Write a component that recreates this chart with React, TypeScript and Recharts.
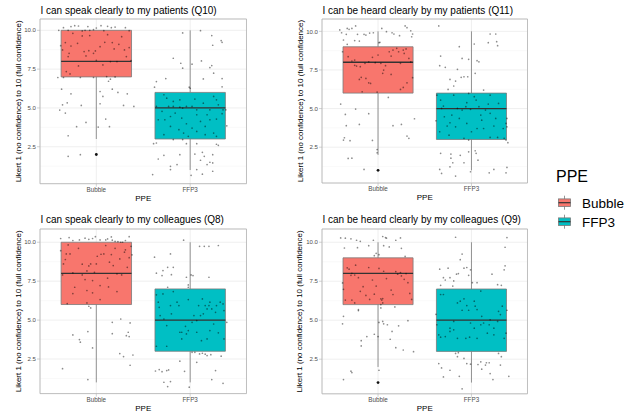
import React from "react";
import {
  ScatterChart,
  Scatter,
  XAxis,
  YAxis,
  CartesianGrid,
  ReferenceArea,
  ReferenceLine,
} from "recharts";

// ---------- data ----------
const categories = ["Bubble", "FFP3"];
const seriesColors = ["#F8766D", "#00BFC4"];
const yTicks = [2.5, 5, 7.5, 10];
const yMinorTicks = [1.25, 3.75, 6.25, 8.75];
const yAxisTitle = "Likert 1 (no confidence) to 10 (full confidence)";
const xAxisTitle = "PPE";
const legendTitle = "PPE";

const panelTitles = [
  "I can speak clearly to my patients (Q10)",
  "I can be heard clearly by my patients (Q11)",
  "I can speak clearly to my colleagues (Q8)",
  "I can be heard clearly by my colleagues (Q9)",
];

// box stats per category: [lower whisker, Q1, median, Q3, upper whisker]
const q10Boxes = [[3, 7, 8, 10, 10], [1, 3, 5, 6, 10]];
const q11Boxes = [[2, 6, 8, 9, 10], [1, 3, 5, 6, 10]];
const q8Boxes = [[1, 6, 8, 10, 10], [1, 3, 5, 7, 10]];
const q9Boxes = [[2, 6, 8, 9, 10], [1, 3, 5, 7, 10]];

const q10Outliers = [[2], []];
const q11Outliers = [[1], []];
const q8Outliers = [[], []];
const q9Outliers = [[1], []];

// jittered responses: [horizontal jitter, jittered answer]
const q10Bubble = [
  [-0.4, 10.0], [-0.35, 10.17], [-0.3, 10.0], [-0.27, 10.24], [-0.23, 10.3], [-0.19, 10.28], [-0.15, 9.96], [-0.12, 10.0], [-0.09, 10.24], [-0.07, 10.0], [-0.03, 10.04], [0.0, 10.15], [0.05, 10.3], [0.08, 9.98], [0.12, 10.26], [0.16, 10.17], [0.2, 10.21], [0.31, 10.17], [0.35, 9.98],
  [-0.38, 9.01], [-0.36, 8.74], [-0.33, 9.21], [-0.3, 8.31], [-0.29, 8.52], [-0.27, 8.99], [-0.25, 9.81], [-0.2, 9.16], [-0.19, 7.71], [-0.15, 9.64], [-0.13, 8.63], [-0.11, 8.35], [-0.08, 8.69], [-0.07, 9.66], [-0.03, 8.52], [-0.01, 8.67], [0.0, 8.07], [0.04, 8.95], [0.07, 7.77], [0.09, 9.23], [0.12, 9.72], [0.15, 7.99], [0.17, 9.21], [0.19, 8.8], [0.22, 7.99], [0.24, 9.1], [0.27, 9.59], [0.3, 8.74], [0.32, 8.31], [0.35, 8.89], [0.37, 8.05], [-0.32, 7.34], [-0.28, 7.19], [-0.41, 6.96], [-0.35, 6.96], [-0.17, 6.96], [-0.03, 6.96], [0.11, 7.02], [0.2, 7.0], [0.15, 6.85],
  [-0.37, 6.21], [-0.27, 5.91], [-0.31, 5.33], [-0.36, 5.2], [-0.39, 4.86], [-0.33, 4.67], [-0.16, 5.16], [0.04, 6.06], [0.04, 5.27], [0.07, 5.74], [0.17, 6.21], [0.13, 6.72], [0.23, 6.0], [0.33, 5.91], [0.29, 5.16], [0.4, 5.1], [-0.3, 3.21], [-0.21, 3.79], [-0.11, 4.07], [0.1, 4.28], [0.14, 3.79], [0.02, 3.77], [-0.3, 1.88], [-0.17, 1.99],
];
const q10Ffp3 = [
  [-0.08, 9.83], [0.11, 9.98], [0.23, 9.66], [0.24, 9.04], [0.33, 9.34], [0.34, 9.23], [-0.18, 8.2], [-0.1, 7.88], [-0.08, 7.56], [0.02, 7.82], [0.12, 8.03], [0.21, 7.6], [0.23, 7.73], [0.25, 7.24], [0.14, 6.87], [0.34, 6.89], [-0.26, 6.89], [0.0, 6.27], [-0.01, 6.34], [-0.36, 6.7], [-0.38, 6.34], [0.34, 6.36],
  [-0.28, 5.85], [-0.25, 5.63], [-0.18, 5.42], [-0.11, 5.52], [-0.04, 5.1], [0.02, 5.1], [0.07, 4.88], [0.14, 5.31], [0.21, 4.88], [0.28, 5.52], [0.35, 4.88], [-0.3, 4.78], [-0.27, 4.24], [-0.21, 4.45], [-0.16, 4.67], [-0.09, 4.35], [-0.04, 3.98], [0.02, 3.7], [0.11, 4.13], [0.16, 3.81], [0.21, 4.24], [0.28, 4.28], [0.34, 4.63], [-0.28, 3.28], [-0.21, 3.81], [-0.12, 3.6], [-0.07, 3.38], [-0.02, 3.17], [0.07, 3.49], [0.16, 3.28], [0.25, 3.38], [0.28, 3.17], [-0.36, 5.1], [-0.34, 4.24], [-0.11, 5.05], [-0.08, 4.99], [0.05, 5.57], [0.25, 5.74], [0.3, 5.2], [0.07, 4.56], [0.18, 4.56], [0.39, 3.85], [0.38, 4.88], [-0.23, 5.1], [-0.18, 5.1],
  [-0.39, 2.7], [-0.36, 2.74], [-0.28, 1.95], [-0.34, 1.71], [-0.21, 1.24], [-0.21, 1.03], [-0.14, 1.35], [-0.11, 1.99], [0.05, 2.03], [0.07, 2.7], [0.13, 2.14], [0.15, 1.88], [0.18, 1.35], [0.11, 1.63], [0.21, 1.5], [0.24, 1.99], [0.24, 1.46], [0.24, 0.92], [0.28, 2.66], [0.3, 2.59], [-0.4, 0.71], [0.01, 0.66], [0.13, 0.73], [0.07, 1.03], [-0.04, 2.7], [-0.08, 2.96], [-0.18, 2.96],
];

const q11Bubble = [
  [-0.41, 10.09], [-0.39, 9.91], [-0.33, 10.19], [-0.31, 10.13], [-0.28, 10.19], [-0.24, 10.35], [-0.34, 9.81], [-0.22, 9.81], [-0.2, 9.37], [-0.15, 9.81], [-0.13, 9.76], [-0.09, 9.89], [-0.05, 9.91], [0.01, 9.27], [0.02, 9.29], [0.04, 10.19], [0.09, 9.98], [0.15, 9.91], [0.17, 9.83], [0.23, 9.72], [0.29, 10.35], [0.31, 10.24], [0.35, 10.04], [0.37, 9.83], [0.36, 9.65], [-0.37, 9.44], [-0.33, 9.16], [-0.25, 9.4],
  [-0.38, 8.68], [-0.32, 8.36], [-0.28, 8.08], [-0.25, 7.8], [-0.23, 7.75], [-0.19, 7.71], [-0.14, 7.93], [-0.1, 8.03], [-0.06, 8.32], [-0.03, 7.97], [0.0, 8.47], [0.03, 7.93], [0.06, 7.49], [0.08, 7.78], [0.12, 8.68], [0.14, 8.4], [0.16, 8.79], [0.2, 8.9], [0.22, 8.68], [0.24, 7.93], [0.27, 8.79], [0.28, 8.57], [0.3, 8.86], [0.33, 8.25], [0.35, 8.03], [0.37, 7.0], [0.31, 6.67], [0.27, 6.37], [0.24, 6.24], [-0.2, 6.89], [-0.18, 7.02], [-0.13, 6.95], [-0.1, 6.67], [-0.08, 6.63], [-0.01, 6.07], [0.05, 7.28], [0.14, 7.21], [-0.17, 6.09], [-0.25, 8.14],
  [-0.4, 5.29], [-0.35, 4.62], [-0.34, 3.89], [-0.37, 2.96], [-0.36, 3.11], [-0.3, 2.92], [-0.32, 1.77], [-0.28, 1.79], [-0.24, 4.97], [-0.2, 3.97], [-0.15, 1.06], [-0.1, 4.67], [-0.06, 2.94], [-0.01, 2.35], [-0.01, 2.14], [0.11, 5.72], [0.16, 3.89], [0.25, 3.97], [0.31, 3.22], [0.33, 3.07], [0.39, 4.34],
];
const q11Ffp3 = [
  [-0.35, 10.35], [-0.33, 8.4], [-0.34, 7.78], [-0.28, 7.67], [-0.23, 6.89], [-0.19, 6.46], [-0.17, 6.78], [-0.15, 7.54], [-0.13, 9.01], [-0.11, 7.02], [-0.1, 8.25], [-0.08, 7.06], [-0.04, 7.06], [-0.03, 8.19], [0.03, 9.18], [0.04, 7.28], [0.06, 8.1], [0.08, 8.03], [0.13, 6.2], [0.18, 9.27], [0.2, 9.83], [0.26, 9.83], [0.27, 9.33], [0.28, 9.07], [-0.25, 6.24],
  [-0.37, 5.87], [-0.33, 5.55], [-0.32, 5.01], [-0.29, 4.47], [-0.26, 3.87], [-0.23, 4.08], [-0.21, 4.58], [-0.19, 5.87], [-0.15, 5.01], [-0.13, 4.36], [-0.1, 4.9], [-0.06, 5.12], [-0.05, 5.38], [-0.01, 4.95], [0.03, 5.77], [0.05, 5.55], [0.08, 5.12], [0.1, 4.58], [0.11, 4.25], [0.13, 3.71], [0.15, 4.9], [0.18, 5.29], [0.2, 4.69], [0.24, 3.87], [0.26, 4.36], [0.29, 5.33], [0.34, 3.71], [0.37, 4.04], [0.38, 3.82], [0.38, 4.36], [-0.34, 3.5], [-0.24, 3.28], [-0.17, 3.82], [-0.08, 3.07], [0.0, 3.5], [0.06, 3.71], [0.2, 3.13], [0.28, 3.13], [0.35, 3.07], [-0.38, 4.21], [-0.3, 5.16], [-0.03, 5.98], [0.2, 5.87], [-0.05, 4.04],
  [-0.33, 2.1], [-0.32, 0.8], [-0.34, 1.06], [-0.22, 2.05], [-0.22, 1.79], [-0.2, 1.49], [-0.23, 1.23], [-0.17, 0.63], [-0.12, 1.97], [-0.08, 1.49], [-0.03, 2.2], [-0.01, 0.91], [0.04, 2.27], [0.05, 2.1], [0.07, 1.66], [0.19, 0.84], [0.24, 1.06], [0.37, 0.84], [0.38, 1.19], [0.39, 2.79], [0.37, 2.96], [-0.03, 2.96],
];

const q8Bubble = [
  [-0.38, 10.24], [-0.29, 10.3], [-0.25, 10.11], [-0.18, 10.15], [-0.12, 10.26], [-0.08, 10.19], [-0.01, 10.36], [0.04, 10.15], [0.1, 10.15], [0.12, 10.21], [0.16, 10.34], [0.17, 10.13], [0.2, 10.06], [0.23, 10.04], [0.26, 10.0], [0.28, 10.0], [0.31, 10.11], [0.35, 10.36], [-0.04, 10.24],
  [-0.38, 9.46], [-0.36, 7.9], [-0.35, 8.61], [-0.33, 8.89], [-0.32, 9.25], [-0.3, 9.83], [-0.28, 9.25], [-0.25, 8.03], [-0.23, 7.11], [-0.19, 9.61], [-0.15, 8.59], [-0.12, 7.6], [-0.1, 6.9], [-0.1, 8.16], [-0.08, 8.48], [-0.06, 8.61], [-0.04, 7.54], [-0.04, 6.75], [-0.02, 8.07], [0.0, 8.61], [0.01, 9.1], [0.04, 7.22], [0.05, 9.23], [0.08, 9.25], [0.1, 9.79], [0.12, 7.69], [0.14, 8.72], [0.16, 9.21], [0.18, 8.5], [0.2, 9.61], [0.22, 6.83], [0.25, 8.93], [0.27, 7.9], [0.3, 9.36], [0.31, 9.51], [0.35, 9.01], [0.37, 9.74], [0.38, 9.19], [0.13, 7.13], [-0.25, 6.7], [-0.31, 6.06], [-0.1, 6.1], [-0.08, 5.89], [-0.06, 5.78], [0.04, 6.32], [0.22, 7.97], [0.33, 8.39], [-0.15, 7.9],
  [-0.36, 1.88], [-0.25, 4.05], [-0.17, 3.58], [-0.18, 3.75], [-0.09, 4.26], [-0.04, 3.21], [-0.09, 1.18], [0.17, 4.86], [0.17, 4.13], [0.25, 2.85], [0.26, 5.07], [0.29, 2.66], [0.32, 4.0], [0.34, 4.22], [0.35, 3.94], [0.36, 2.1], [0.39, 2.76], [0.36, 4.82],
];
const q8Ffp3 = [
  [-0.38, 9.04], [-0.36, 8.01], [-0.29, 8.18], [-0.3, 7.86], [-0.24, 8.39], [-0.21, 9.25], [-0.2, 7.92], [-0.18, 8.39], [-0.07, 10.13], [-0.04, 7.75], [-0.02, 7.26], [-0.02, 7.11], [0.01, 7.9], [0.03, 7.86], [0.1, 9.74], [0.15, 9.74], [0.2, 9.74], [0.3, 9.79], [0.2, 7.75],
  [-0.36, 6.62], [-0.34, 6.15], [-0.33, 5.82], [-0.32, 5.29], [-0.29, 6.68], [-0.28, 5.07], [-0.25, 4.65], [-0.24, 7.11], [-0.21, 5.93], [-0.2, 5.4], [-0.18, 6.83], [-0.14, 6.15], [-0.12, 5.93], [-0.11, 4.22], [-0.09, 4.22], [-0.05, 4.6], [-0.04, 4.11], [-0.02, 4.33], [0.02, 4.86], [0.04, 5.29], [0.07, 4.97], [0.09, 5.93], [0.11, 5.29], [0.13, 6.36], [0.14, 5.4], [0.16, 5.93], [0.18, 5.72], [0.2, 5.93], [0.21, 6.15], [0.23, 5.72], [0.25, 4.75], [0.27, 5.5], [0.28, 5.93], [0.32, 6.15], [0.36, 5.61], [0.35, 6.04], [0.18, 3.79], [0.12, 3.68], [0.07, 4.22], [0.21, 4.33], [0.3, 4.18], [0.36, 3.79], [0.39, 4.86], [-0.02, 6.32], [-0.36, 3.32], [-0.25, 3.32], [-0.09, 3.79], [0.02, 2.93],
  [-0.37, 1.73], [-0.33, 1.82], [-0.3, 1.69], [-0.25, 1.76], [-0.23, 1.8], [-0.28, 1.01], [-0.24, 0.73], [-0.21, 1.05], [-0.11, 2.36], [-0.06, 1.71], [-0.01, 0.69], [0.05, 2.93], [0.07, 2.29], [0.1, 2.83], [0.13, 2.87], [0.16, 2.81], [0.18, 2.72], [0.22, 2.78], [0.23, 1.18], [0.27, 1.76], [0.33, 2.68], [0.35, 0.94],
];

const q9Bubble = [
  [-0.4, 10.28], [-0.35, 10.26], [-0.36, 9.63], [-0.29, 10.22], [-0.23, 10.13], [-0.22, 9.65], [-0.19, 10.06], [-0.1, 9.78], [-0.05, 10.13], [-0.04, 9.14], [-0.02, 9.29], [0.01, 9.2], [0.05, 10.37], [0.06, 9.78], [0.08, 10.3], [0.09, 10.26], [0.12, 9.7], [0.19, 10.13], [0.24, 10.28], [0.25, 9.61], [0.29, 9.09],
  [-0.37, 6.98], [-0.33, 8.36], [-0.31, 8.27], [-0.29, 7.88], [-0.28, 8.01], [-0.25, 7.9], [-0.24, 8.53], [-0.21, 7.73], [-0.19, 6.85], [-0.16, 7.15], [-0.13, 6.59], [-0.1, 8.38], [-0.09, 6.33], [-0.06, 7.58], [-0.04, 6.67], [-0.02, 7.19], [0.01, 8.32], [0.03, 6.37], [0.04, 6.29], [0.05, 6.39], [0.06, 8.14], [0.09, 7.67], [0.14, 6.93], [0.16, 6.65], [0.19, 8.12], [0.21, 7.95], [0.24, 8.06], [0.25, 7.84], [0.28, 7.62], [0.3, 7.99], [0.32, 7.41], [0.34, 6.72], [0.36, 6.33], [-0.35, 6.29], [-0.28, 6.29], [-0.25, 6.11], [0.05, 6.11], [0.18, 5.85], [-0.38, 7.39], [-0.21, 5.68], [0.03, 5.79],
  [-0.38, 4.77], [-0.37, 5.25], [-0.21, 5.62], [-0.18, 3.69], [-0.18, 3.35], [-0.12, 3.95], [0.0, 3.95], [0.03, 6.0], [0.05, 4.92], [0.06, 4.77], [0.1, 4.71], [0.13, 3.78], [0.15, 4.28], [0.19, 3.24], [0.22, 4.64], [0.27, 3.09], [0.32, 4.97], [0.38, 2.98], [-0.37, 1.19], [-0.29, 1.73], [-0.28, 1.64], [0.01, 1.79], [-0.04, 4.1], [0.01, 4.86],
];
const q9Ffp3 = [
  [-0.34, 8.27], [-0.33, 7.24], [-0.3, 7.73], [-0.28, 7.58], [-0.25, 8.34], [-0.23, 7.73], [-0.2, 7.19], [-0.19, 7.52], [-0.16, 7.95], [-0.14, 7.99], [-0.12, 8.88], [-0.1, 9.24], [-0.08, 8.34], [-0.05, 8.38], [-0.03, 7.88], [-0.01, 8.23], [0.01, 7.41], [0.06, 7.41], [0.1, 6.87], [0.22, 7.95], [0.28, 7.28], [0.32, 7.24], [0.35, 8.23], [0.36, 8.49], [0.36, 9.68], [0.38, 10.3], [-0.17, 10.32], [-0.33, 6.65],
  [-0.38, 5.38], [-0.37, 4.71], [-0.35, 4.06], [-0.3, 6.65], [-0.28, 3.95], [-0.23, 4.28], [-0.19, 4.92], [-0.15, 6.11], [-0.12, 6.22], [-0.1, 5.64], [-0.08, 6.37], [-0.05, 5.94], [-0.03, 5.64], [-0.01, 4.82], [0.03, 6.22], [0.04, 5.9], [0.06, 5.68], [0.1, 4.71], [0.11, 5.25], [0.13, 4.82], [0.17, 4.17], [0.19, 4.71], [0.2, 5.03], [0.24, 4.06], [0.28, 4.92], [0.31, 5.36], [0.33, 5.9], [0.35, 3.84], [0.37, 4.17], [0.38, 5.64], [-0.33, 3.91], [-0.23, 4.49], [-0.15, 3.84], [-0.06, 3.84], [-0.02, 3.91], [0.03, 4.49], [0.06, 3.84], [0.24, 4.49], [0.29, 5.57], [-0.19, 4.38],
  [-0.35, 2.22], [-0.32, 1.94], [-0.3, 1.36], [-0.23, 1.79], [-0.17, 2.87], [-0.15, 2.66], [-0.08, 2.55], [-0.13, 1.4], [-0.1, 0.6], [-0.05, 2.22], [-0.01, 2.18], [0.07, 2.16], [0.1, 2.33], [0.11, 1.86], [0.15, 2.12], [0.16, 2.27], [0.19, 2.27], [0.2, 1.58], [0.23, 1.19], [0.31, 2.12], [0.32, 2.66], [0.4, 1.4], [0.29, 2.87], [-0.14, 2.92],
];

// ---------- styles ----------
const FONT = "'Liberation Sans', Arial, Helvetica, sans-serif";
const BOX_HALF = 0.375;

type PanelProps = {
  left: number;
  top: number;
  plotW: number;
  plotH: number;
  yDomain: [number, number];
  boxes: number[][];
  outliers: number[][];
  points: number[][][];
};

function Panel({ left, top, plotW, plotH, yDomain, boxes, outliers, points }: PanelProps) {
  const ML = 40;
  const MR = 10;
  const MT = 19;
  const XH = 26;
  const width = ML + plotW + MR;
  const height = MT + plotH + XH;
  const jitter = points.flatMap((pts, i) => pts.map(([dx, y]) => ({ x: i + 1 + dx, y })));
  const outl = outliers.flatMap((o, i) => o.map((y) => ({ x: i + 1, y })));

  return (
    <div style={{ position: "absolute", left: left - ML, top: top - MT }}>
      <ScatterChart width={width} height={height} margin={{ top: MT, right: MR, bottom: 0, left: 0 }}>
        <CartesianGrid
          horizontalValues={yMinorTicks}
          vertical={false}
          stroke="#f1f1f1"
          strokeWidth={0.45}
        />
        <CartesianGrid stroke="#e4e4e4" strokeWidth={0.6} />
        <XAxis
          type="number"
          dataKey="x"
          domain={[0.4, 2.6]}
          ticks={[1, 2]}
          allowDataOverflow
          height={XH}
          axisLine={false}
          tickSize={3}
          tickMargin={1}
          tickLine={{ stroke: "#b3b3b3", strokeWidth: 0.6 }}
          tick={{ fontSize: 6.3, fill: "#4d4d4d", fontFamily: FONT }}
          tickFormatter={(v: number) => categories[Math.round(v) - 1]}
          label={(p: any) => {
            const vb = p.viewBox;
            return (
              <text
                x={vb.x + vb.width / 2}
                y={vb.y + 14.5}
                textAnchor="middle"
                dominantBaseline="central"
                fontSize={8}
                fontFamily={FONT}
                fill="#000"
              >
                {xAxisTitle}
              </text>
            );
          }}
        />
        <YAxis
          type="number"
          dataKey="y"
          domain={yDomain}
          ticks={yTicks}
          allowDataOverflow
          width={ML}
          axisLine={false}
          tickSize={3}
          tickMargin={1}
          tickLine={{ stroke: "#b3b3b3", strokeWidth: 0.6 }}
          tick={{ fontSize: 6.1, fill: "#4d4d4d", fontFamily: FONT }}
          tickFormatter={(v: number) => v.toFixed(1)}
          label={(p: any) => {
            const vb = p.viewBox;
            const cx = vb.x + 18;
            const cy = vb.y + vb.height / 2;
            return (
              <text
                x={cx}
                y={cy}
                transform={`rotate(-90 ${cx} ${cy})`}
                textAnchor="middle"
                dominantBaseline="central"
                fontSize={8}
                fontFamily={FONT}
                fill="#000"
              >
                {yAxisTitle}
              </text>
            );
          }}
        />
        {boxes.map((b, i) => {
          const c = i + 1;
          return (
            <React.Fragment key={"b" + i}>
              <ReferenceLine
                segment={[{ x: c, y: b[0] }, { x: c, y: b[1] }]}
                stroke="#7a7a7a"
                strokeWidth={0.8}
              />
              <ReferenceLine
                segment={[{ x: c, y: b[3] }, { x: c, y: b[4] }]}
                stroke="#7a7a7a"
                strokeWidth={0.8}
              />
              <ReferenceArea
                x1={c - BOX_HALF}
                x2={c + BOX_HALF}
                y1={b[1]}
                y2={b[3]}
                fill={seriesColors[i]}
                fillOpacity={1}
                stroke="#7a7a7a"
                strokeWidth={0.8}
                ifOverflow="visible"
              />
              <ReferenceLine
                segment={[{ x: c - BOX_HALF, y: b[2] }, { x: c + BOX_HALF, y: b[2] }]}
                stroke="#333333"
                strokeWidth={1.3}
              />
            </React.Fragment>
          );
        })}
        <ReferenceArea
          x1={0.4}
          x2={2.6}
          y1={yDomain[0]}
          y2={yDomain[1]}
          fill="none"
          fillOpacity={0}
          stroke="#b3b3b3"
          strokeWidth={0.8}
          ifOverflow="visible"
        />
        <Scatter
          data={outl}
          isAnimationActive={false}
          shape={(p: any) => <circle cx={p.cx} cy={p.cy} r={1.4} fill="#111" />}
        />
        <Scatter
          data={jitter}
          isAnimationActive={false}
          shape={(p: any) => <circle cx={p.cx} cy={p.cy} r={0.85} fill="#000" fillOpacity={0.45} />}
        />
      </ScatterChart>
    </div>
  );
}

function LegendKey({ x, y, color }: { x: number; y: number; color: string }) {
  return (
    <g>
      <line x1={x + 6} x2={x + 6} y1={y - 1} y2={y + 13} stroke="#7a7a7a" strokeWidth={0.8} />
      <rect x={x} y={y + 2.2} width={12} height={7.6} fill={color} stroke="#7a7a7a" strokeWidth={0.8} />
      <line x1={x} x2={x + 12} y1={y + 6} y2={y + 6} stroke="#333" strokeWidth={1.2} />
    </g>
  );
}

export default function App() {
  const panels = [
    { left: 40, top: 19, plotW: 206.5, plotH: 164.7, yDomain: [0.12, 10.73] as [number, number], boxes: q10Boxes, outliers: q10Outliers, points: [q10Bubble, q10Ffp3] },
    { left: 322, top: 19, plotW: 205.5, plotH: 164.0, yDomain: [0.18, 10.8] as [number, number], boxes: q11Boxes, outliers: q11Outliers, points: [q11Bubble, q11Ffp3] },
    { left: 40, top: 228.7, plotW: 206.5, plotH: 164.6, yDomain: [0.28, 10.85] as [number, number], boxes: q8Boxes, outliers: q8Outliers, points: [q8Bubble, q8Ffp3] },
    { left: 322, top: 228.5, plotW: 205.5, plotH: 164.8, yDomain: [0.28, 10.85] as [number, number], boxes: q9Boxes, outliers: q9Outliers, points: [q9Bubble, q9Ffp3] },
  ];
  const titleBaselines = [14.3, 14.3, 223.3, 223.3];

  return (
    <div style={{ position: "absolute", left: 0, top: 0, width: 633, height: 419, background: "#fff", overflow: "hidden" }}>
      {panels.map((p, i) => (
        <Panel key={i} {...p} />
      ))}
      <svg width={633} height={419} style={{ position: "absolute", left: 0, top: 0, pointerEvents: "none" }}>
        {panels.map((p, i) => (
          <text key={"t" + i} x={p.left + 0.5} y={titleBaselines[i]} fontSize={10} fontFamily={FONT} fill="#000">
            {panelTitles[i]}
          </text>
        ))}
        <text x={556} y={182} fontSize={16} fontFamily={FONT} fill="#000">
          {legendTitle}
        </text>
        {categories.map((c, i) => (
          <g key={"l" + i}>
            <LegendKey x={558.5} y={196.7 + i * 19} color={seriesColors[i]} />
            <text x={582} y={207.5 + i * 19} fontSize={13.5} fontFamily={FONT} fill="#000">
              {c}
            </text>
          </g>
        ))}
      </svg>
    </div>
  );
}
